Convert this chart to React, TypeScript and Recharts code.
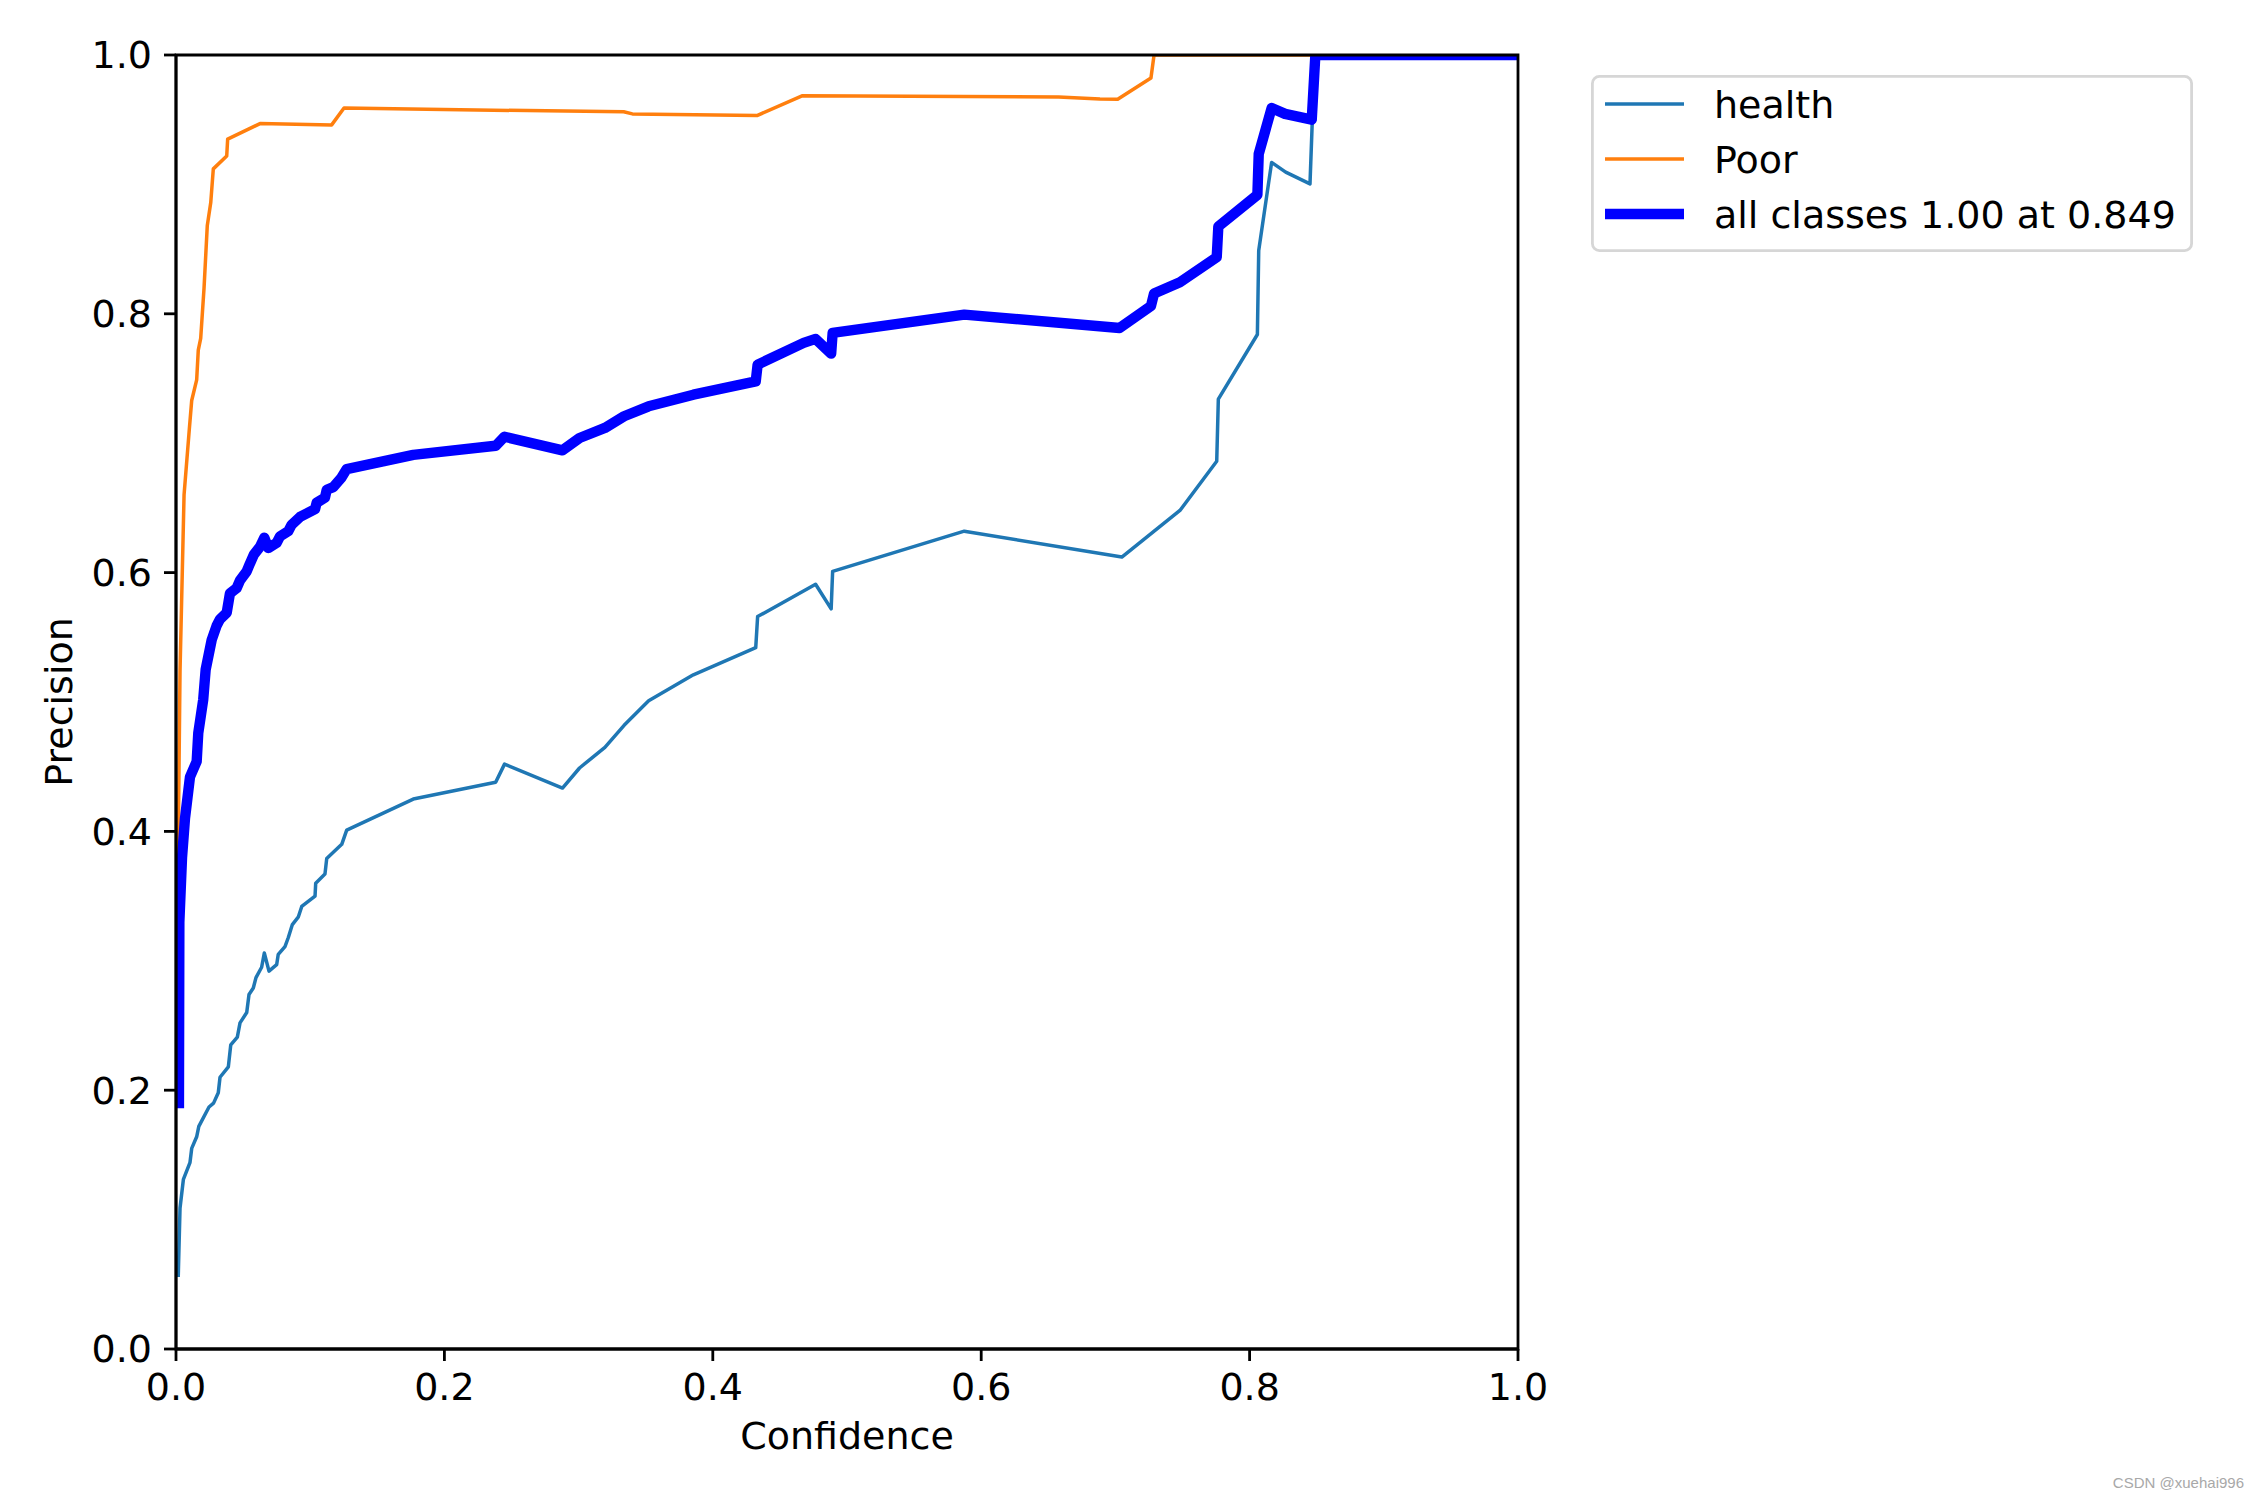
import React from 'react';
import {
  LineChart,
  Line,
  XAxis,
  YAxis,
  Label,
  Legend,
  ReferenceArea,
} from 'recharts';

// [confidence, precision] pairs
const healthCurve: [number, number][] = [
  [0.0017, 0.057], [0.003, 0.109], [0.0055, 0.131], [0.0104, 0.144], [0.0117, 0.155],
  [0.0154, 0.164], [0.017, 0.172], [0.0246, 0.187], [0.028, 0.19], [0.0315, 0.198],
  [0.0328, 0.21], [0.039, 0.218], [0.0408, 0.235], [0.0457, 0.241], [0.0477, 0.252],
  [0.0527, 0.26], [0.0544, 0.274], [0.0576, 0.279], [0.0596, 0.287], [0.0638, 0.295],
  [0.0658, 0.306], [0.0693, 0.292], [0.075, 0.297], [0.0762, 0.305], [0.0812, 0.311],
  [0.0837, 0.318], [0.0867, 0.328], [0.0912, 0.334], [0.0937, 0.342], [0.1036, 0.35],
  [0.1041, 0.36], [0.111, 0.367], [0.1123, 0.379], [0.1235, 0.39], [0.1272, 0.401],
  [0.1768, 0.425], [0.2382, 0.438], [0.2448, 0.452], [0.288, 0.4335], [0.3007, 0.449],
  [0.3196, 0.465], [0.3339, 0.482], [0.3522, 0.501], [0.3855, 0.521], [0.432, 0.542],
  [0.4334, 0.566], [0.4766, 0.591], [0.4882, 0.572], [0.4893, 0.601], [0.5874, 0.632],
  [0.7048, 0.612], [0.7481, 0.648], [0.7755, 0.686], [0.7767, 0.734], [0.8058, 0.784],
  [0.8068, 0.849], [0.8164, 0.917], [0.8269, 0.9095], [0.845, 0.9004], [0.8467, 0.9487],
  [0.849, 1.0], [1.0, 1.0],
];

const poorCurve: [number, number][] = [
  [0.0008, 0.38], [0.0017, 0.393], [0.003, 0.524], [0.006, 0.66], [0.0099, 0.7105],
  [0.0117, 0.733], [0.0154, 0.749], [0.0166, 0.772], [0.0184, 0.781], [0.0209, 0.82],
  [0.0233, 0.868], [0.0259, 0.886], [0.0278, 0.912], [0.0378, 0.922], [0.0385, 0.935],
  [0.0626, 0.947], [0.116, 0.946], [0.1252, 0.959], [0.1868, 0.958], [0.3336, 0.9561],
  [0.3401, 0.9545], [0.4329, 0.9532], [0.4669, 0.9686], [0.6577, 0.9676], [0.6885, 0.966],
  [0.7017, 0.9658], [0.7265, 0.9823], [0.7288, 1.0], [1.0, 1.0],
];

const allClassesCurve: [number, number][] = [
  [0.0022, 0.19], [0.0025, 0.33], [0.0045, 0.38], [0.0067, 0.41], [0.0104, 0.442],
  [0.0154, 0.454], [0.0166, 0.476], [0.0203, 0.502], [0.0221, 0.525], [0.0266, 0.548],
  [0.0303, 0.559], [0.0328, 0.564], [0.0378, 0.569], [0.0402, 0.584], [0.0452, 0.588],
  [0.0477, 0.594], [0.0527, 0.601], [0.0551, 0.607], [0.0581, 0.614], [0.0626, 0.62],
  [0.0658, 0.627], [0.0688, 0.619], [0.075, 0.623], [0.0775, 0.628], [0.0837, 0.632],
  [0.0862, 0.637], [0.0924, 0.643], [0.1036, 0.649], [0.1048, 0.654], [0.111, 0.658],
  [0.1123, 0.664], [0.1172, 0.666], [0.123, 0.673], [0.1272, 0.68], [0.1768, 0.691],
  [0.2382, 0.698], [0.2448, 0.705], [0.288, 0.6945], [0.3007, 0.704], [0.3196, 0.7118],
  [0.3339, 0.7208], [0.3522, 0.7285], [0.3855, 0.7375], [0.432, 0.7478], [0.4334, 0.7607],
  [0.4677, 0.7775], [0.4766, 0.7806], [0.4882, 0.7692], [0.4893, 0.7852], [0.5874, 0.7994],
  [0.7031, 0.789], [0.7265, 0.806], [0.7288, 0.8156], [0.7481, 0.8244], [0.7755, 0.8437],
  [0.7767, 0.8674], [0.8058, 0.8919], [0.8068, 0.9235], [0.8164, 0.959], [0.8264, 0.9545],
  [0.8463, 0.95], [0.849, 1.0], [1.0, 1.0],
];

const axisTicks = [0, 0.2, 0.4, 0.6, 0.8, 1.0];

const series = [
  { name: 'health', color: '#1f77b4', width: 3.5, curve: healthCurve },
  { name: 'Poor', color: '#ff7f0e', width: 3.5, curve: poorCurve },
  { name: 'all classes 1.00 at 0.849', color: '#0000ff', width: 10.4, curve: allClassesCurve },
];

const FONT = '"DejaVu Sans", sans-serif';
const FONT_SIZE = 38;
const SPINE = 2.8;

function toPoints(curve: [number, number][]) {
  return curve.map(([x, y]) => ({ x, y }));
}

function LegendBox() {
  const rowY = [29, 84, 139];
  return (
    <svg width={602} height={177} style={{ display: 'block' }}>
      <rect
        x={1.4}
        y={1.4}
        width={599.2}
        height={174.2}
        rx={7}
        fill="#fff"
        stroke="#d6d6d6"
        strokeWidth={SPINE}
      />
      {series.map((s, i) => (
        <g key={s.name}>
          <line
            x1={14}
            x2={93}
            y1={rowY[i]}
            y2={rowY[i]}
            stroke={s.color}
            strokeWidth={s.width}
            strokeLinecap="butt"
          />
          <text x={123} y={rowY[i] + 14} fontFamily={FONT} fontSize={FONT_SIZE} fill="#000">
            {s.name}
          </text>
        </g>
      ))}
    </svg>
  );
}

export default function App() {
  return (
    <div style={{ position: 'absolute', left: 0, top: 0, width: 2250, height: 1500, background: '#fff' }}>
      <LineChart width={2250} height={1500} margin={{ top: 55, right: 732, bottom: 0, left: 0 }}>
        <XAxis
          type="number"
          dataKey="x"
          domain={[0, 1]}
          ticks={axisTicks}
          allowDataOverflow
          height={151}
          tickFormatter={(v: number) => v.toFixed(1)}
          tick={{ fill: '#000', fontSize: FONT_SIZE, fontFamily: FONT }}
          tickSize={12}
          tickMargin={12}
          axisLine={{ stroke: '#000', strokeWidth: SPINE }}
          tickLine={{ stroke: '#000', strokeWidth: SPINE }}
        >
          <Label
            content={({ viewBox }: any) => (
              <text
                x={viewBox.x + viewBox.width / 2}
                y={viewBox.y + 100}
                textAnchor="middle"
                fontFamily={FONT}
                fontSize={FONT_SIZE}
                fill="#000"
              >
                Confidence
              </text>
            )}
          />
        </XAxis>
        <YAxis
          type="number"
          dataKey="y"
          domain={[0, 1]}
          ticks={axisTicks}
          allowDataOverflow
          width={176}
          tickFormatter={(v: number) => v.toFixed(1)}
          tick={{ fill: '#000', fontSize: FONT_SIZE, fontFamily: FONT }}
          tickSize={12}
          tickMargin={12}
          axisLine={{ stroke: '#000', strokeWidth: SPINE }}
          tickLine={{ stroke: '#000', strokeWidth: SPINE }}
        >
          <Label
            content={({ viewBox }: any) => {
              const cx = viewBox.x + 72;
              const cy = viewBox.y + viewBox.height / 2;
              return (
                <text
                  x={cx}
                  y={cy}
                  textAnchor="middle"
                  transform={`rotate(-90, ${cx}, ${cy})`}
                  fontFamily={FONT}
                  fontSize={FONT_SIZE}
                  fill="#000"
                >
                  Precision
                </text>
              );
            }}
          />
        </YAxis>
        {series.map((s) => (
          <Line
            key={s.name}
            data={toPoints(s.curve)}
            dataKey="y"
            name={s.name}
            type="linear"
            stroke={s.color}
            strokeWidth={s.width}
            strokeLinejoin="round"
            strokeLinecap="square"
            dot={false}
            activeDot={false}
            isAnimationActive={false}
          />
        ))}
        <ReferenceArea
          x1={0}
          x2={1}
          y1={0}
          y2={1}
          fill="none"
          stroke="#000"
          strokeWidth={SPINE}
          fillOpacity={0}
          ifOverflow="visible"
          zIndex={2000}
        />
        <Legend
          layout="vertical"
          align="center"
          verticalAlign="middle"
          wrapperStyle={{ left: 1591, top: 75, width: 602, height: 177 }}
          content={() => <LegendBox />}
        />
      </LineChart>
      <div
        style={{
          position: 'absolute',
          right: 6,
          top: 1474,
          fontFamily: '"Liberation Sans", Arial, sans-serif',
          fontSize: 15,
          color: '#a8a8a8',
          whiteSpace: 'nowrap',
        }}
      >
        CSDN @xuehai996
      </div>
    </div>
  );
}
